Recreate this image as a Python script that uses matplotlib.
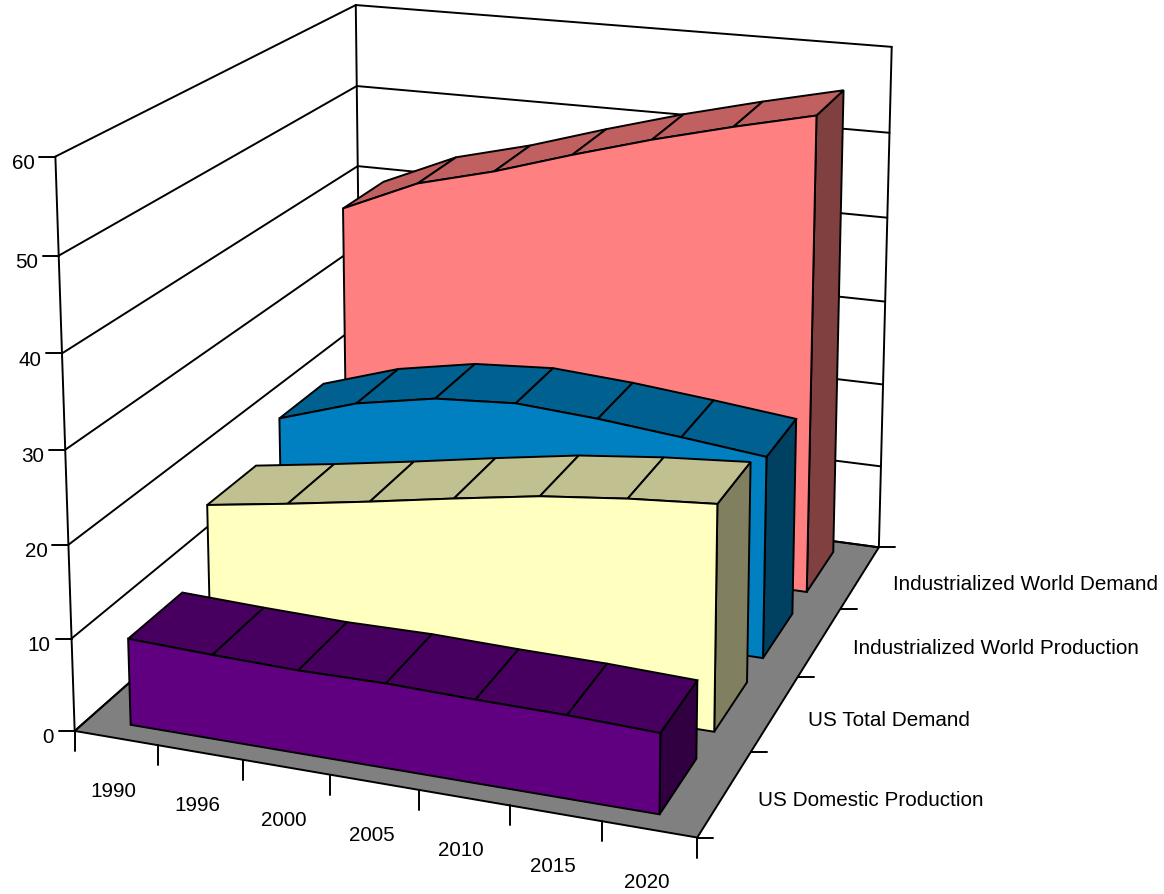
import numpy as np
import matplotlib
matplotlib.use('Agg')
import matplotlib.pyplot as plt
from matplotlib.patches import Polygon

plt.rcParams['font.family'] = ['Liberation Sans', 'DejaVu Sans']

# --- Data ---
years = ['1990', '1996', '2000', '2005', '2010', '2015', '2020']
series_names = ['US Domestic Production', 'US Total Demand',
                'Industrialized World Production', 'Industrialized World Demand']
us_production = [9.35, 9.05, 8.85, 8.95, 8.75, 8.65, 8.35]
us_demand = [16.7, 18.1, 19.6, 21.2, 22.7, 23.7, 24.4]
world_production = [20.0, 22.9, 24.6, 25.2, 24.6, 23.7, 22.7]
world_demand = [39.3, 43.2, 45.5, 48.3, 50.9, 53.2, 55.3]
value_ticks = [0, 10, 20, 30, 40, 50, 60]

# front / top / side colours for each ribbon
colors = [('#600080', '#480060', '#300040'),
          ('#FFFFC0', '#C0C090', '#808060'),
          ('#0080C0', '#006090', '#004060'),
          ('#FF8080', '#C06060', '#804040')]
all_values = [us_production, us_demand, world_production, world_demand]

# --- Camera: fit a perspective matrix to the corners of the chart box ---
box = [(0, 0, 0), (7, 0, 0), (7, 4, 0), (7, 4, 60), (0, 4, 60), (0, 0, 60), (0, 4, 50), (0, 0, 50),
       (7, 4, 50), (7, 4, 40), (1, 0, 0), (2, 0, 0), (3, 0, 0), (6, 0, 0), (7, 1, 0), (7, 2, 0), (7, 3, 0)]
pix = [(74, 731), (698, 838), (878, 549), (892, 48), (356, 5), (55, 158), (357, 88), (59, 257),
       (889, 133), (887, 219), (158, 747), (243, 760), (331, 776), (602, 823), (750, 753), (798, 678), (842, 609)]
A, b = [], []
for (x, s, v), (u, w) in zip(box, pix):
    A.append([x, s, v, 1, 0, 0, 0, 0, -u*x, -u*s, -u*v])
    b.append(u)
    A.append([0, 0, 0, 0, x, s, v, 1, -w*x, -w*s, -w*v])
    b.append(w)
M = np.append(np.linalg.lstsq(np.array(A, float), np.array(b, float), rcond=None)[0], 1).reshape(3, 4)


def proj(x, s, v):
    h = M @ np.array([x, s, v, 1.0])
    return h[0] / h[2], h[1] / h[2]


fig = plt.figure(figsize=(11.64, 8.95), dpi=100)
ax = fig.add_axes([0, 0, 1, 1])
ax.set_xlim(0, 1164)
ax.set_ylim(895, 0)
ax.axis('off')

LW = 1.4
FS = 14.9
nx = len(years)
ns = len(series_names)
vmax = value_ticks[-1]


def line(p, q, z=1):
    ax.plot([p[0], q[0]], [p[1], q[1]], color='black', lw=LW, solid_capstyle='round', zorder=z)


def poly(pts, color, z):
    ax.add_patch(Polygon(pts, closed=True, facecolor=color, edgecolor='black', lw=LW, joinstyle='miter', zorder=z))


# --- Floor and walls ---
poly([proj(0, 0, 0), proj(nx, 0, 0), proj(nx, ns, 0), proj(0, ns, 0)], '#808080', 1)
for v in value_ticks:
    line(proj(0, 0, v), proj(0, ns, v))
    line(proj(0, ns, v), proj(nx, ns, v))
    p = proj(0, 0, v)
    line((p[0] - 16, p[1]), p)
    ax.text(p[0] - 21, p[1] + 6, str(v), ha='right', va='center', fontsize=FS, color='black')
line(proj(0, 0, 0), proj(0, 0, vmax))
line(proj(0, ns, 0), proj(0, ns, vmax))
line(proj(nx, ns, 0), proj(nx, ns, vmax))

# --- Axis ticks and labels ---
for i in range(nx + 1):
    p = proj(i, 0, 0)
    line(p, (p[0], p[1] + 20))
for i, year in enumerate(years):
    p = proj(i + 0.5, 0, 0)
    ax.text(p[0] - 3, p[1] + 52, year, ha='center', va='center', fontsize=FS, color='black')
for j in range(ns + 1):
    p = proj(nx, j, 0)
    line(p, (p[0] + 16, p[1]))
for j, name in enumerate(series_names):
    p = proj(nx, j + 0.5, 0)
    ax.text(p[0] + 33, p[1] + 6, name, ha='left', va='center', fontsize=FS, color='black')

# --- Ribbons, back to front ---
for j in range(ns - 1, -1, -1):
    vals = all_values[j]
    front_col, top_col, side_col = colors[j]
    s0, s1 = j + 0.17, j + 0.83
    xs = [i + 0.5 for i in range(nx)]
    z = 10 + (ns - j) * 3
    # end cap
    poly([proj(xs[-1], s0, 0), proj(xs[-1], s1, 0), proj(xs[-1], s1, vals[-1]), proj(xs[-1], s0, vals[-1])], side_col, z)
    # top faces
    for i in range(nx - 1):
        poly([proj(xs[i], s0, vals[i]), proj(xs[i + 1], s0, vals[i + 1]),
              proj(xs[i + 1], s1, vals[i + 1]), proj(xs[i], s1, vals[i])], top_col, z + 1)
    # front face
    pts = [proj(x, s0, v) for x, v in zip(xs, vals)] + [proj(xs[-1], s0, 0), proj(xs[0], s0, 0)]
    poly(pts, front_col, z + 2)

plt.savefig('out.png', dpi=100)
plt.close()
